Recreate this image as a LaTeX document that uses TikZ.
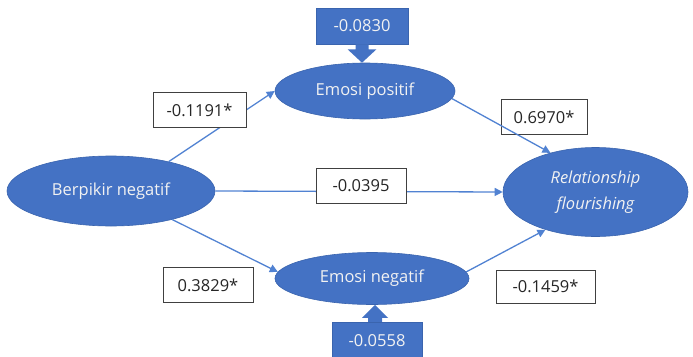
\documentclass[tikz,border=0pt]{standalone}
\usepackage{fontspec}
\setmainfont{Open Sans}
\usetikzlibrary{arrows.meta,shapes.geometric}
\definecolor{ofblue}{HTML}{4472C4}
\definecolor{ofedge}{HTML}{3A64AE}
\definecolor{lnblue}{HTML}{5182D2}
\definecolor{bxedge}{HTML}{404040}
\definecolor{bxtext}{HTML}{262626}
\begin{document}
\begin{tikzpicture}[x=1pt,y=-1pt,
  varnode/.style={ellipse,fill=ofblue,draw=ofedge,line width=0.6pt,inner sep=0pt,
    text=white!95!black,font=\fontsize{16.5}{21}\selectfont,align=center},
  coefbox/.style={rectangle,draw=bxedge,line width=1pt,text=bxtext,
    minimum height=35pt,inner sep=0pt,font=\fontsize{16.5}{19}\selectfont},
  callbox/.style={rectangle,fill=ofblue,draw=ofedge,line width=0.5pt,text=white!95!black,
    inner sep=0pt,font=\fontsize{16.5}{19}\selectfont},
  conn/.style={draw=lnblue,line width=1.3pt,-{Triangle[length=8pt,width=8pt]}}]
\useasboundingbox (0,0) rectangle (693,356);
% variables
\node[varnode,minimum width=208pt,minimum height=70pt] (bn) at (111,191) {Berpikir negatif};
\node[varnode,minimum width=180pt,minimum height=56pt] (ep) at (365,91) {Emosi positif};
\node[varnode,minimum width=194pt,minimum height=52pt] (en) at (372,278.5) {Emosi negatif};
\node[varnode,minimum width=185pt,minimum height=89pt] (rf) at (595.5,192)
  {\itshape Relationship\\[5pt]\itshape flourishing};
% connectors
\draw[conn] (bn.27) -- (ep.west);
\draw[conn] (bn.-25) -- (en.176);
\draw[conn] (bn.east) -- (rf.west);
\draw[conn] (en.4) -- (rf.217);
% coefficient boxes
\node[coefbox,fill=white,minimum width=93pt] (b1) at (199.5,110) {-0.1191*};
\node[coefbox,fill=white,minimum width=90pt] (b2) at (208,285) {0.3829*};
\node[coefbox,fill=white,minimum width=90pt] (b3) at (361,185.5) {-0.0395};
\node[coefbox,minimum width=86pt] (b4) at (544,117) {0.6970*};
\node[coefbox,fill=white,minimum width=99pt,minimum height=33pt] (b5) at (545.5,286.5) {-0.1459*};
\draw[conn] (ep.-5) -- (rf.139);
% error callouts
\node[callbox,minimum width=92pt,minimum height=36pt] (cp) at (362,26) {-0.0830};
\fill[ofblue] ([xshift=-6.5pt]cp.south) -- ++(0,5) -- ++(-8,0) -- (ep.north -| cp.south)
  -- ([xshift=14.5pt,yshift=-5pt]cp.south) -- ++(-8,0) -- ([xshift=6.5pt]cp.south) -- cycle;
\node[callbox,minimum width=90pt,minimum height=38pt] (cn) at (377,341) {-0.0558};
\coordinate (cntip) at (375,305);
\fill[ofblue] ([xshift=-9pt]cn.north) -- ++(0,-4) -- ++(-6,0) -- (cntip)
  -- ([xshift=11pt,yshift=4pt]cn.north) -- ++(-6,0) -- ([xshift=5pt]cn.north) -- cycle;
\end{tikzpicture}
\end{document}
